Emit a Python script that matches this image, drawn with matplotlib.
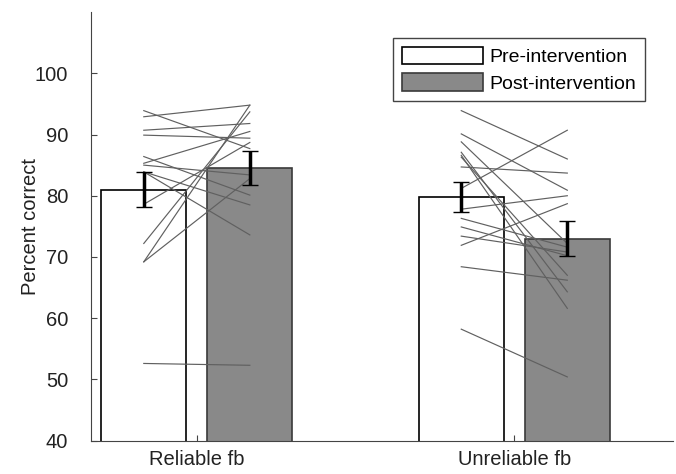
import numpy as np
import matplotlib.pyplot as plt

plt.rcParams['font.family'] = ['Liberation Sans', 'DejaVu Sans']
plt.rcParams['font.size'] = 14.5

# Condiciones y medias por grupo
conditions = ["Reliable fb", "Unreliable fb"]
pre_mean = [81.0, 79.8]
post_mean = [84.5, 73.0]
pre_se = [2.8, 2.4]
post_se = [2.75, 2.8]

# Datos individuales (pre -> post)
reliable_pre = [93.9, 92.9, 90.7, 89.9, 86.4, 85.3, 85.0, 83.9, 83.9, 78.6, 72.2, 69.2, 69.2, 52.6]
reliable_post = [87.7, 94.8, 91.8, 89.4, 80.1, 90.5, 83.4, 78.5, 73.6, 88.7, 93.7, 94.8, 82.8, 52.3]
unreliable_pre = [93.9, 90.1, 81.2, 84.7, 77.8, 71.9, 76.3, 74.9, 68.4, 58.2, 88.8, 87.1, 86.6, 86.3, 73.4]
unreliable_post = [86.0, 80.9, 90.7, 83.7, 80.0, 78.7, 71.6, 70.2, 66.2, 50.4, 72.2, 64.3, 61.6, 67.0, 70.8]

x = np.array([1, 2])
off = 0.167
w = 0.268

fig = plt.figure(figsize=(6.76, 4.74), dpi=100)
ax = fig.add_axes([0.1346, 0.0705, 0.861, 0.904])

ax.bar(x - off, pre_mean, w, bottom=0, color="white", edgecolor="black",
       linewidth=1.2, label="Pre-intervention", zorder=1)
ax.bar(x + off, post_mean, w, bottom=0, color="#898989", edgecolor="#3a3a3a",
       linewidth=1.2, label="Post-intervention", zorder=1)

# Lineas por sujeto
for pre, post, xc in [(reliable_pre, reliable_post, 1), (unreliable_pre, unreliable_post, 2)]:
    for a, b in zip(pre, post):
        ax.plot([xc - off, xc + off], [a, b], color="#606060", linewidth=0.85, zorder=2)

ax.errorbar(x - off, pre_mean, yerr=pre_se, fmt="none", ecolor="black",
            elinewidth=2.5, capsize=6, capthick=1, zorder=3)
ax.errorbar(x + off, post_mean, yerr=post_se, fmt="none", ecolor="black",
            elinewidth=2.5, capsize=6, capthick=1, zorder=3)

ax.set_xlim(0.6667, 2.5)
ax.set_ylim(40, 110)
ax.set_yticks([40, 50, 60, 70, 80, 90, 100])
ax.set_xticks(x)
ax.set_xticklabels(conditions)
ax.tick_params(direction="in", length=4, color="#444444", labelcolor="#222222")
ax.tick_params(axis="y", pad=16.5)
ax.tick_params(axis="x", pad=7)
ax.set_ylabel("Percent correct", color="#222222", labelpad=-4)

for s in ["top", "right"]:
    ax.spines[s].set_visible(False)
for s in ["left", "bottom"]:
    ax.spines[s].set_color("#444444")

leg = ax.legend(loc="upper left", bbox_to_anchor=(0.519, 0.939), borderaxespad=0,
                fancybox=False, edgecolor="#444444", framealpha=1, handlelength=4.2,
                handleheight=1.0, handletextpad=0.3, borderpad=0.45, labelspacing=0.35,
                fontsize=14)
leg.get_frame().set_linewidth(1.0)

plt.savefig("out.png", dpi=100)
plt.close()
